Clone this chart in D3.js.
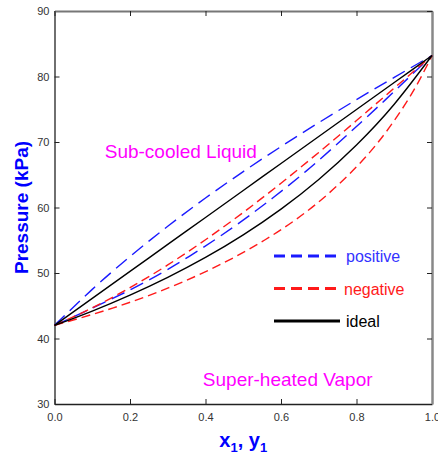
<!DOCTYPE html>
<html>
<head>
<meta charset="utf-8">
<script src="https://cdn.jsdelivr.net/npm/d3@7"></script>
<style>
  body { margin: 0; background: #fff; }
  text { font-family: "Liberation Sans", Arial, sans-serif; }
</style>
</head>
<body>
<div id="chart"></div>
<script>
// ideal (Raoult) - bubble and dew lines
const xIdeal = [0, 0.1, 0.2, 0.3, 0.4, 0.5, 0.6, 0.7, 0.8, 0.9, 1.0];
const pIdealBubble = [42, 46.12, 50.24, 54.36, 58.48, 62.6, 66.72, 70.84, 74.96, 79.08, 83.2];
const pIdealDew = [42, 44.19, 46.62, 49.33, 52.37, 55.82, 59.75, 64.28, 69.55, 75.77, 83.2];

// positive deviation
const xPos = [0, 0.1, 0.2, 0.3, 0.4, 0.5, 0.6, 0.7, 0.8, 0.9, 1.0];
const yPos = [0, 0.203, 0.356, 0.477, 0.578, 0.665, 0.741, 0.811, 0.877, 0.939, 1.0];
const pPos = [42, 47.50, 52.51, 57.14, 61.45, 65.48, 69.30, 72.95, 76.47, 79.87, 83.2];

// negative deviation
const xNeg = [0, 0.1, 0.2, 0.3, 0.4, 0.5, 0.6, 0.7, 0.8, 0.9, 1.0];
const yNeg = [0, 0.156, 0.303, 0.437, 0.558, 0.665, 0.756, 0.835, 0.900, 0.955, 1.0];
const pNeg = [42, 44.68, 47.76, 51.23, 55.08, 59.25, 63.71, 68.41, 73.27, 78.23, 83.2];

const xTicks = [0, 0.2, 0.4, 0.6, 0.8, 1.0];
const yTicks = [30, 40, 50, 60, 70, 80, 90];

const legendItems = [
    { name: "positive", color: "#1a1aff", textColor: "#3333ff", dash: "11,6" },
    { name: "negative", color: "#ff1a1a", textColor: "#ff1a1a", dash: "11,6" },
    { name: "ideal", color: "#000", textColor: "#000", dash: null }
];

const width = 438, height = 459;
const margin = { top: 11, right: 6, bottom: 55, left: 54.5 };
const w = width - margin.left - margin.right;
const h = height - margin.top - margin.bottom;

const svg = d3.select("#chart").append("svg")
    .attr("width", width)
    .attr("height", height);

const g = svg.append("g")
    .attr("transform", "translate(" + margin.left + "," + margin.top + ")");

const x = d3.scaleLinear().domain([0, 1]).range([0, w]);
const y = d3.scaleLinear().domain([30, 90]).range([h, 0]);

// axes (ticks point inward)
const ax = g.append("g")
    .attr("transform", "translate(0," + h + ")")
    .call(d3.axisBottom(x).tickValues(xTicks).tickFormat(d3.format(".1f")).tickSizeInner(-5).tickSizeOuter(0).tickPadding(9));
const ay = g.append("g")
    .call(d3.axisLeft(y).tickValues(yTicks).tickSizeInner(-5).tickSizeOuter(0).tickPadding(5));
g.append("g")
    .call(d3.axisTop(x).tickValues(xTicks).tickFormat("").tickSizeInner(-5).tickSizeOuter(0))
    .select(".domain").attr("stroke", "#777").attr("stroke-width", 2);
g.append("g")
    .attr("transform", "translate(" + w + ",0)")
    .call(d3.axisRight(y).tickValues(yTicks).tickFormat("").tickSizeInner(-5).tickSizeOuter(0))
    .select(".domain").attr("stroke", "#888").attr("stroke-width", 2.5);

[ax, ay].forEach(a => {
    a.select(".domain").attr("stroke", "#222").attr("stroke-width", 1.3);
    a.selectAll("text").attr("font-size", 11).attr("fill", "#333")
        .attr("font-family", "'Liberation Sans', Arial, sans-serif");
});
g.selectAll(".tick line").attr("stroke", "#222");

// curves
const line = (xs, ps) => d3.line()
    .x((d, i) => x(xs[i]))
    .y(d => y(d))
    .curve(d3.curveNatural)(ps);

const curves = [
    { xs: xPos, ps: pPos, color: "#1a1aff", dash: "14,7" },
    { xs: yPos, ps: pPos, color: "#1a1aff", dash: "14,7" },
    { xs: xNeg, ps: pNeg, color: "#ff1a1a", dash: "9,5" },
    { xs: yNeg, ps: pNeg, color: "#ff1a1a", dash: "9,5" },
    { xs: xIdeal, ps: pIdealBubble, color: "#000", dash: null },
    { xs: xIdeal, ps: pIdealDew, color: "#000", dash: null }
];

g.selectAll(".curve")
    .data(curves)
    .enter().append("path")
    .attr("class", "curve")
    .attr("d", d => line(d.xs, d.ps))
    .attr("fill", "none")
    .attr("stroke", d => d.color)
    .attr("stroke-width", 1.4)
    .attr("stroke-dasharray", d => d.dash);

// region labels
g.append("text")
    .attr("x", x(0.133)).attr("y", y(67.6))
    .attr("font-size", 19).attr("fill", "#ff00ff")
    .text("Sub-cooled Liquid");
g.append("text")
    .attr("x", x(0.393)).attr("y", y(32.8))
    .attr("font-size", 19).attr("fill", "#ff00ff")
    .text("Super-heated Vapor");

// legend
const legend = g.selectAll(".legend")
    .data(legendItems)
    .enter().append("g")
    .attr("class", "legend")
    .attr("transform", (d, i) => "translate(" + (274 - margin.left) + "," + (256 - margin.top + i * 32.5) + ")");
legend.append("line")
    .attr("x1", 0).attr("x2", d => d.dash ? 62 : 66)
    .attr("stroke", d => d.color)
    .attr("stroke-width", 2.8)
    .attr("stroke-dasharray", d => d.dash);
legend.append("text")
    .attr("x", d => d.name === "negative" ? 70 : 72)
    .attr("y", 6)
    .attr("font-size", 16)
    .attr("fill", d => d.textColor)
    .text(d => d.name);

// axis titles
svg.append("text")
    .attr("transform", "translate(28," + (margin.top + h / 2) + ") rotate(-90)")
    .attr("text-anchor", "middle")
    .attr("font-size", 19).attr("font-weight", "bold").attr("fill", "#0000ff")
    .text("Pressure (kPa)");

const xt = svg.append("text")
    .attr("x", margin.left + w / 2)
    .attr("y", 447)
    .attr("text-anchor", "middle")
    .attr("font-size", 20).attr("font-weight", "bold").attr("fill", "#0000ff");
xt.append("tspan").text("x");
xt.append("tspan").attr("font-size", 13).attr("dy", 5).text("1");
xt.append("tspan").attr("dy", -5).text(", y");
xt.append("tspan").attr("font-size", 13).attr("dy", 5).text("1");
</script>
</body>
</html>
